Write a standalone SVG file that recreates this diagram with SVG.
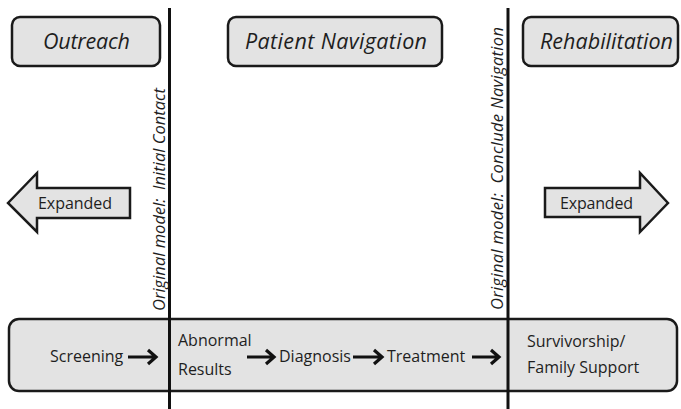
<svg xmlns="http://www.w3.org/2000/svg" width="681" height="409" viewBox="0 0 681 409">
<style>
.box{fill:#e3e3e3;stroke:#1a1a1a;stroke-width:2.5}
.hdr{font-family:"Open Sans",sans-serif;font-style:italic;font-size:21.5px;fill:#1e1e1e}
.lbl{font-family:"Open Sans",sans-serif;font-size:16px;fill:#1e1e1e}
.vt{font-family:"Open Sans",sans-serif;font-style:italic;font-size:16.5px;fill:#1e1e1e}
.div{stroke:#111;stroke-width:3}
.arr{stroke:#111;stroke-width:3.2;fill:none}
</style>
<g id="outreach">
<rect class="box" x="12" y="17" width="148" height="49" rx="8"/>
<text class="hdr" x="43" y="49" textLength="87">Outreach</text>
</g>
<g id="patient-navigation">
<rect class="box" x="228" y="17" width="214" height="49" rx="8"/>
<text class="hdr" x="245" y="49" textLength="182">Patient Navigation</text>
</g>
<g id="rehabilitation">
<rect class="box" x="523" y="17" width="155" height="49" rx="8"/>
<text class="hdr" x="540" y="49" textLength="133">Rehabilitation</text>
</g>
<g id="expanded-left">
<polygon class="box" points="8,203 37,173 37,188 130,188 130,218 37,218 37,232"/>
<text class="lbl" x="38" y="209" textLength="74">Expanded</text>
</g>
<g id="expanded-right">
<polygon class="box" points="668,203 640,173 640,188 545,188 545,217 640,217 640,232"/>
<text class="lbl" x="560" y="209" textLength="73">Expanded</text>
</g>
<g id="pathway">
<rect class="box" x="9" y="319" width="668" height="72" rx="10"/>
<text class="lbl" x="50" y="362">Screening</text>
<text class="lbl" x="178" y="346">Abnormal</text>
<text class="lbl" x="178" y="375">Results</text>
<text class="lbl" x="279" y="362">Diagnosis</text>
<text class="lbl" x="387" y="362">Treatment</text>
<text class="lbl" x="527" y="347">Survivorship/</text>
<text class="lbl" x="527" y="373">Family Support</text>
</g>
<g id="dividers">
<line class="div" x1="169.5" y1="8" x2="169.5" y2="409"/>
<line class="div" x1="508" y1="8" x2="508" y2="409"/>
<text class="vt" transform="translate(165,311) rotate(-90)" xml:space="preserve" textLength="223">Original model:  Initial Contact</text>
<text class="vt" transform="translate(503,310) rotate(-90)" xml:space="preserve" textLength="283">Original model:  Conclude Navigation</text>
</g>
<g id="connectors">
<path class="arr" d="M128,357 H156 M148,350 L156,357 L148,364"/>
<path class="arr" d="M247,357 H274 M266,350 L274,357 L266,364"/>
<path class="arr" d="M353,357 H382 M374,350 L382,357 L374,364"/>
<path class="arr" d="M472,357 H499 M491,350 L499,357 L491,364"/>
</g>
</svg>
